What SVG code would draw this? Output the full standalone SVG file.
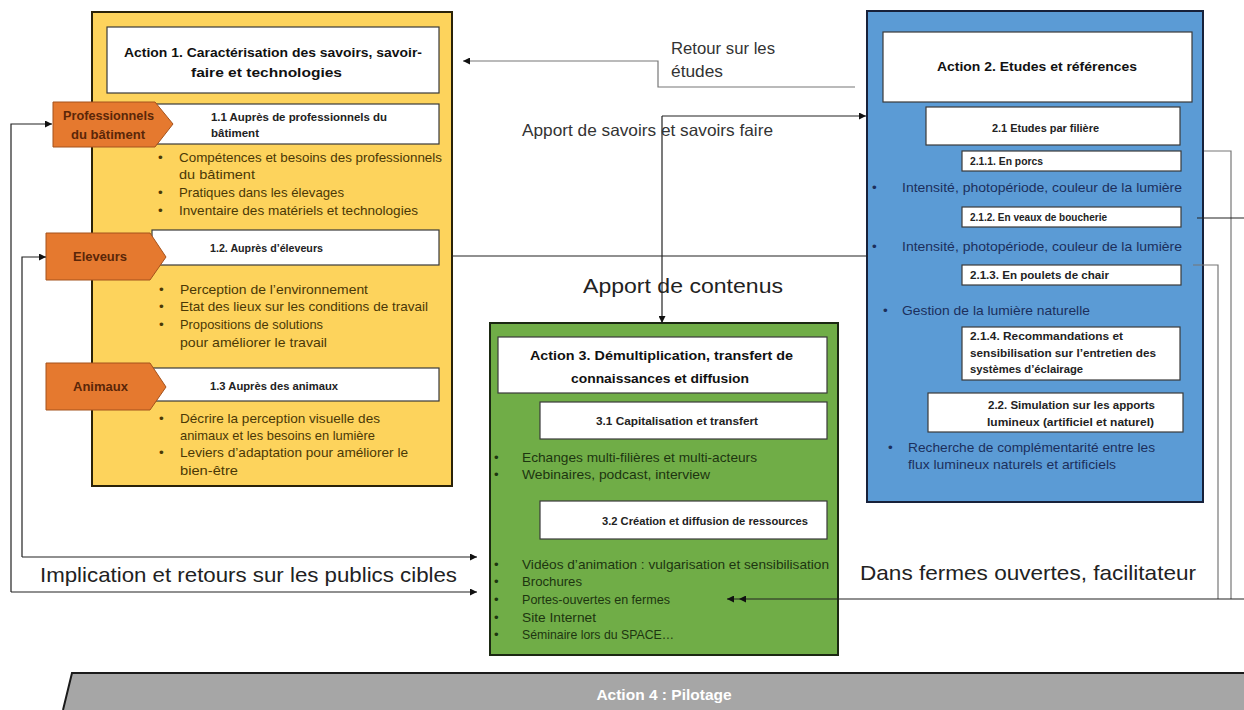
<svg xmlns="http://www.w3.org/2000/svg" width="1244" height="710" viewBox="0 0 1244 710">
<defs>
<marker id="arr" viewBox="0 0 10 10" refX="10" refY="5" markerWidth="8" markerHeight="7" markerUnits="userSpaceOnUse" orient="auto"><path d="M0,0 L10,5 L0,10 Z" fill="#111"/></marker>
<style>
.panel{stroke-width:2}
.wbox{fill:#fff;stroke:#3a3a3a;stroke-width:1.2}
.t{font-family:"Liberation Sans",Arial,sans-serif}
.title{font-weight:bold;font-size:13.5px;fill:#111}
.sub{font-weight:bold;font-size:11px;fill:#222}
.ybul{font-size:13.5px;fill:#4a3806}
.gbul{font-size:13.2px;fill:#1d3510}
.bbul{font-size:13.5px;fill:#1c2f5c}
.tag{font-weight:bold;font-size:12px;fill:#5a2608}
.pent{fill:#E5792F;stroke:#a4521c;stroke-width:1}
.lbl{font-size:16.5px;fill:#333}
.big{font-size:21px;fill:#222}
.con{fill:none;stroke:#222;stroke-width:1.2}
.cong{fill:none;stroke:#777;stroke-width:1.2}
</style>
</defs>
<rect width="1244" height="710" fill="#fff"/>

<g id="action1">
<rect class="panel" x="92" y="12" width="360" height="474" fill="#FDD35C" stroke="#2a2208"/>
<rect class="wbox" x="107" y="27" width="332" height="66"/>
<text class="t title" x="124" y="57" textLength="298" lengthAdjust="spacingAndGlyphs">Action 1. Caractérisation des savoirs, savoir-</text>
<text class="t title" x="191" y="77" textLength="151" lengthAdjust="spacingAndGlyphs">faire et technologies</text>
<rect class="wbox" x="152" y="104" width="287" height="40"/>
<text class="t sub" x="211" y="121" textLength="176" lengthAdjust="spacingAndGlyphs">1.1 Auprès de professionnels du</text>
<text class="t sub" x="211" y="137" textLength="48" lengthAdjust="spacingAndGlyphs">bâtiment</text>
<g class="t ybul">
<text x="158" y="162">•</text><text x="179" y="162" textLength="263" lengthAdjust="spacingAndGlyphs">Compétences et besoins des professionnels</text>
<text x="179" y="179" textLength="76" lengthAdjust="spacingAndGlyphs">du bâtiment</text>
<text x="158" y="197">•</text><text x="179" y="197" textLength="165" lengthAdjust="spacingAndGlyphs">Pratiques dans les élevages</text>
<text x="158" y="215">•</text><text x="179" y="215" textLength="239" lengthAdjust="spacingAndGlyphs">Inventaire des matériels et technologies</text>
</g>
<rect class="wbox" x="152" y="230" width="287" height="35"/>
<text class="t sub" x="210" y="252" textLength="113" lengthAdjust="spacingAndGlyphs">1.2. Auprès d’éleveurs</text>
<g class="t ybul">
<text x="159" y="294">•</text><text x="180" y="294" textLength="188" lengthAdjust="spacingAndGlyphs">Perception de l’environnement</text>
<text x="159" y="311">•</text><text x="180" y="311" textLength="248" lengthAdjust="spacingAndGlyphs">Etat des lieux sur les conditions de travail</text>
<text x="159" y="329">•</text><text x="180" y="329" textLength="143" lengthAdjust="spacingAndGlyphs">Propositions de solutions</text>
<text x="180" y="347" textLength="147" lengthAdjust="spacingAndGlyphs">pour améliorer le travail</text>
</g>
<rect class="wbox" x="152" y="368" width="287" height="33"/>
<text class="t sub" x="210" y="390" textLength="128" lengthAdjust="spacingAndGlyphs">1.3 Auprès des animaux</text>
<g class="t ybul">
<text x="159" y="423">•</text><text x="180" y="423" textLength="200" lengthAdjust="spacingAndGlyphs">Décrire la perception visuelle des</text>
<text x="180" y="440" textLength="195" lengthAdjust="spacingAndGlyphs">animaux et les besoins en lumière</text>
<text x="159" y="457">•</text><text x="180" y="457" textLength="228" lengthAdjust="spacingAndGlyphs">Leviers d’adaptation pour améliorer le</text>
<text x="180" y="475" textLength="58" lengthAdjust="spacingAndGlyphs">bien-être</text>
</g>
</g>

<g id="tag-pro">
<polygon class="pent" points="53,102 155,102 173,124 155,147 53,147"/>
<text class="t tag" x="63" y="120" textLength="91" lengthAdjust="spacingAndGlyphs">Professionnels</text>
<text class="t tag" x="71" y="139" textLength="74" lengthAdjust="spacingAndGlyphs">du bâtiment</text>
</g>
<g id="tag-eleveurs">
<polygon class="pent" points="46,233 150,233 166,257 150,280 46,280"/>
<text class="t tag" x="73" y="261" textLength="54" lengthAdjust="spacingAndGlyphs">Eleveurs</text>
</g>
<g id="tag-animaux">
<polygon class="pent" points="46,363 150,363 166,387 150,410 46,410"/>
<text class="t tag" x="73" y="391" textLength="55" lengthAdjust="spacingAndGlyphs">Animaux</text>
</g>

<g id="action2">
<rect class="panel" x="867" y="11" width="336" height="491" fill="#5B9BD5" stroke="#17213a"/>
<rect class="wbox" x="883" y="32" width="309" height="70"/>
<text class="t title" x="937" y="71" textLength="200" lengthAdjust="spacingAndGlyphs">Action 2. Etudes et références</text>
<rect class="wbox" x="926" y="107" width="254" height="38"/>
<text class="t sub" x="992" y="132" textLength="107" lengthAdjust="spacingAndGlyphs">2.1 Etudes par filière</text>
<rect class="wbox" x="962" y="151" width="219" height="20"/>
<text class="t sub" x="970" y="165" textLength="73" lengthAdjust="spacingAndGlyphs">2.1.1. En porcs</text>
<g class="t bbul">
<text x="872" y="192">•</text><text x="902" y="192" textLength="280" lengthAdjust="spacingAndGlyphs">Intensité, photopériode, couleur de la lumière</text>
</g>
<rect class="wbox" x="962" y="207" width="219" height="20"/>
<text class="t sub" x="970" y="221" textLength="137" lengthAdjust="spacingAndGlyphs">2.1.2. En veaux de boucherie</text>
<g class="t bbul">
<text x="872" y="251">•</text><text x="902" y="251" textLength="280" lengthAdjust="spacingAndGlyphs">Intensité, photopériode, couleur de la lumière</text>
</g>
<rect class="wbox" x="962" y="265" width="219" height="20"/>
<text class="t sub" x="970" y="279" textLength="139" lengthAdjust="spacingAndGlyphs">2.1.3. En poulets de chair</text>
<g class="t bbul">
<text x="883" y="315">•</text><text x="902" y="315" textLength="188" lengthAdjust="spacingAndGlyphs">Gestion de la lumière naturelle</text>
</g>
<rect class="wbox" x="962" y="327" width="218" height="53"/>
<text class="t sub" x="970" y="340" textLength="153" lengthAdjust="spacingAndGlyphs">2.1.4. Recommandations  et</text>
<text class="t sub" x="970" y="357" textLength="186" lengthAdjust="spacingAndGlyphs">sensibilisation  sur l’entretien des</text>
<text class="t sub" x="970" y="373" textLength="113" lengthAdjust="spacingAndGlyphs">systèmes d’éclairage</text>
<rect class="wbox" x="928" y="393" width="255" height="39"/>
<text class="t sub" x="988" y="409" textLength="167" lengthAdjust="spacingAndGlyphs">2.2. Simulation sur les apports</text>
<text class="t sub" x="987" y="426" textLength="167" lengthAdjust="spacingAndGlyphs">lumineux (artificiel et naturel)</text>
<g class="t bbul">
<text x="888" y="452">•</text><text x="908" y="452" textLength="247" lengthAdjust="spacingAndGlyphs">Recherche de complémentarité entre les</text>
<text x="908" y="469" textLength="208" lengthAdjust="spacingAndGlyphs">flux lumineux naturels et artificiels</text>
</g>
</g>

<g id="action3">
<rect class="panel" x="490" y="323" width="348" height="332" fill="#70AD47" stroke="#1b2812"/>
<rect class="wbox" x="498" y="337" width="329" height="56"/>
<text class="t title" x="530" y="360" textLength="263" lengthAdjust="spacingAndGlyphs">Action 3. Démultiplication, transfert de</text>
<text class="t title" x="571" y="383" textLength="178" lengthAdjust="spacingAndGlyphs">connaissances et diffusion</text>
<rect class="wbox" x="540" y="402" width="287" height="37"/>
<text class="t sub" x="596" y="425" textLength="162" lengthAdjust="spacingAndGlyphs">3.1 Capitalisation  et transfert</text>
<g class="t gbul">
<text x="494" y="462">•</text><text x="522" y="462" textLength="235" lengthAdjust="spacingAndGlyphs">Echanges multi-filières et multi-acteurs</text>
<text x="494" y="479">•</text><text x="522" y="479" textLength="188" lengthAdjust="spacingAndGlyphs">Webinaires, podcast, interview</text>
</g>
<rect class="wbox" x="540" y="501" width="287" height="38"/>
<text class="t sub" x="602" y="525" textLength="206" lengthAdjust="spacingAndGlyphs">3.2 Création et diffusion de ressources</text>
<g class="t gbul">
<text x="494" y="569">•</text><text x="522" y="569" textLength="307" lengthAdjust="spacingAndGlyphs">Vidéos d’animation : vulgarisation et sensibilisation</text>
<text x="494" y="586">•</text><text x="522" y="586" textLength="60" lengthAdjust="spacingAndGlyphs">Brochures</text>
<text x="494" y="604">•</text><text x="522" y="604" textLength="148" lengthAdjust="spacingAndGlyphs">Portes-ouvertes en fermes</text>
<text x="494" y="622">•</text><text x="522" y="622" textLength="74" lengthAdjust="spacingAndGlyphs">Site Internet</text>
<text x="494" y="639">•</text><text x="522" y="639" textLength="152" lengthAdjust="spacingAndGlyphs">Séminaire lors du SPACE…</text>
</g>
</g>

<g id="action4">
<polygon points="72,673 1244,673 1244,710 63,710" fill="#A6A6A6"/>
<path d="M63,710 L72,673 L1244,673" fill="none" stroke="#1a1a1a" stroke-width="2"/>
<text class="t" x="664" y="700" text-anchor="middle" font-size="15.5" font-weight="bold" fill="#fff">Action 4 : Pilotage</text>
</g>

<g id="connectors">
<path class="cong" d="M855,87 L658,87 L658,61 L463,61" marker-end="url(#arr)"/>
<path class="con" d="M662,116 L866,116" marker-end="url(#arr)"/>
<path class="con" d="M662,116 L662,323" marker-end="url(#arr)"/>
<path class="con" d="M452,256 L868,256"/>
<path class="con" d="M11,592 L11,124 L52,124" marker-end="url(#arr)"/>
<path class="con" d="M22,557 L22,257 L46,257" marker-end="url(#arr)"/>
<path class="con" d="M22,557 L477,557" marker-end="url(#arr)"/>
<path class="con" d="M11,592 L477,592" marker-end="url(#arr)"/>
<path class="cong" d="M1204,151 L1231,151 L1231,599"/>
<path class="con" d="M1197,218 L1244,218"/>
<path class="cong" d="M1193,265 L1218,265 L1218,599"/>
<path class="con" d="M1244,599 L739,599 L727,599" stroke-width="1.8" marker-mid="url(#arr)" marker-end="url(#arr)"/>
</g>

<g id="labels" class="t">
<text class="lbl" x="671" y="54" textLength="104" lengthAdjust="spacingAndGlyphs">Retour sur les</text>
<text class="lbl" x="671" y="77" textLength="52" lengthAdjust="spacingAndGlyphs">études</text>
<text class="lbl" x="522" y="136" textLength="251" lengthAdjust="spacingAndGlyphs">Apport de savoirs et savoirs faire</text>
<text class="big" x="583" y="293" textLength="200" lengthAdjust="spacingAndGlyphs">Apport  de contenus</text>
<text class="big" x="40" y="582" textLength="417" lengthAdjust="spacingAndGlyphs">Implication et retours sur les publics cibles</text>
<text class="big" x="860" y="580" textLength="336" lengthAdjust="spacingAndGlyphs">Dans fermes ouvertes, facilitateur</text>
</g>
</svg>
